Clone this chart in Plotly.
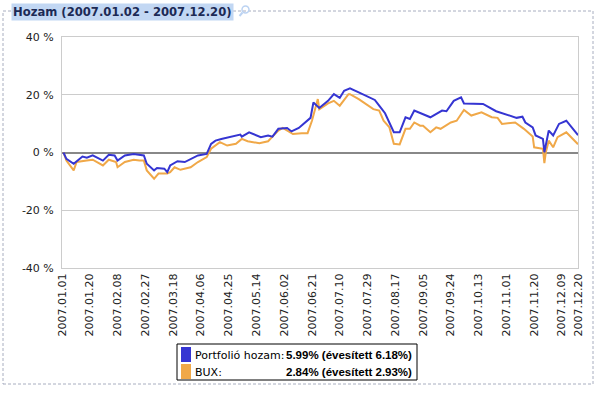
import plotly.graph_objects as go

# ---- data ----
portfolio_dates = [
    "2007-01-02", "2007-01-04", "2007-01-09", "2007-01-15", "2007-01-18", "2007-01-22",
    "2007-01-29", "2007-02-02", "2007-02-06", "2007-02-08", "2007-02-13", "2007-02-19",
    "2007-02-26", "2007-02-28", "2007-03-05", "2007-03-07", "2007-03-12", "2007-03-14",
    "2007-03-16", "2007-03-21", "2007-03-26", "2007-03-30", "2007-04-04", "2007-04-10",
    "2007-04-13", "2007-04-16", "2007-04-20", "2007-05-03", "2007-05-04", "2007-05-09",
    "2007-05-17", "2007-05-22", "2007-05-25", "2007-05-29", "2007-06-04", "2007-06-07",
    "2007-06-12", "2007-06-20", "2007-06-22", "2007-06-26", "2007-07-02", "2007-07-06",
    "2007-07-10", "2007-07-13", "2007-07-17", "2007-07-23", "2007-08-03", "2007-08-06",
    "2007-08-10", "2007-08-16", "2007-08-20", "2007-08-24", "2007-08-27", "2007-08-30",
    "2007-09-10", "2007-09-18", "2007-09-21", "2007-09-26", "2007-10-01", "2007-10-03",
    "2007-10-16", "2007-10-25", "2007-11-08", "2007-11-12", "2007-11-14", "2007-11-19",
    "2007-11-21", "2007-11-26", "2007-11-27", "2007-11-30", "2007-12-03", "2007-12-07",
    "2007-12-12", "2007-12-20",
]
portfolio_values = [
    0.0, -2.2, -3.9, -1.4, -1.8, -1.0,
    -2.8, -0.8, -1.0, -2.8, -1.0, -0.5,
    -1.0, -3.9, -6.2, -5.4, -5.6, -6.8,
    -4.5, -3.0, -3.3, -2.2, -1.0, -0.5,
    3.0, 4.1, 4.7, 6.2, 5.5, 7.0,
    5.3, 5.9, 5.5, 8.2, 8.5, 7.3,
    8.5, 12.0, 17.3, 15.4, 17.9, 20.2,
    18.9, 21.4, 22.2, 20.8, 18.2, 16.2,
    13.6, 7.0, 7.0, 12.2, 11.6, 14.5,
    12.2, 14.5, 14.3, 17.9, 19.1, 17.0,
    16.8, 14.3, 12.0, 12.4, 10.4, 8.7,
    5.9, 4.7, 0.1, 7.6, 5.9, 9.9,
    11.0, 5.99,
]

bux_dates = [
    "2007-01-02", "2007-01-04", "2007-01-09", "2007-01-11", "2007-01-18", "2007-01-22",
    "2007-01-29", "2007-02-02", "2007-02-07", "2007-02-08", "2007-02-13", "2007-02-19",
    "2007-02-23", "2007-02-26", "2007-02-28", "2007-03-05", "2007-03-08", "2007-03-14",
    "2007-03-16", "2007-03-19", "2007-03-23", "2007-03-30", "2007-04-04", "2007-04-10",
    "2007-04-13", "2007-04-19", "2007-04-24", "2007-04-30", "2007-05-04", "2007-05-08",
    "2007-05-16", "2007-05-22", "2007-05-25", "2007-05-29", "2007-06-01", "2007-06-08",
    "2007-06-14", "2007-06-18", "2007-06-21", "2007-06-25", "2007-06-26", "2007-07-02",
    "2007-07-06", "2007-07-10", "2007-07-16", "2007-07-17", "2007-07-23", "2007-08-02",
    "2007-08-06", "2007-08-09", "2007-08-13", "2007-08-16", "2007-08-20", "2007-08-24",
    "2007-08-27", "2007-08-30", "2007-09-03", "2007-09-05", "2007-09-10", "2007-09-14",
    "2007-09-17", "2007-09-24", "2007-09-28", "2007-10-03", "2007-10-08", "2007-10-15",
    "2007-10-22", "2007-10-26", "2007-10-29", "2007-11-07", "2007-11-13", "2007-11-19",
    "2007-11-20", "2007-11-26", "2007-11-27", "2007-11-28", "2007-11-30", "2007-12-03",
    "2007-12-06", "2007-12-12", "2007-12-20",
]
bux_values = [
    0.0, -2.8, -6.2, -3.3, -2.8, -2.5,
    -4.5, -2.5, -3.3, -5.1, -3.3, -2.5,
    -2.8, -2.8, -6.2, -9.1, -7.3, -7.3,
    -6.8, -5.1, -6.0, -5.1, -3.3, -1.6,
    1.3, 3.6, 2.4, 3.0, 4.7, 3.9,
    3.2, 3.9, 5.5, 7.6, 8.5, 6.4,
    6.7, 6.7, 11.0, 18.5, 15.0, 17.0,
    17.9, 16.2, 20.2, 20.2, 18.5, 15.0,
    14.5, 11.0, 8.7, 3.0, 2.8, 8.2,
    8.2, 10.4, 9.3, 9.3, 7.0, 8.7,
    8.2, 10.4, 11.0, 14.7, 12.8, 13.9,
    12.2, 12.0, 9.9, 10.4, 8.2, 5.5,
    1.8, 1.3, -3.7, 0.1, 4.1, 1.8,
    5.3, 7.0, 2.84,
]

tick_dates = [
    "2007-01-01", "2007-01-20", "2007-02-08", "2007-02-27", "2007-03-18", "2007-04-06",
    "2007-04-25", "2007-05-14", "2007-06-02", "2007-06-21", "2007-07-10", "2007-07-29",
    "2007-08-17", "2007-09-05", "2007-09-24", "2007-10-13", "2007-11-01", "2007-11-20",
    "2007-12-09", "2007-12-20",
]
tick_labels = [d.replace("-", ".") for d in tick_dates]
y_ticks = [-40, -20, 0, 20, 40]

title_text = "Hozam (2007.01.02 - 2007.12.20)"
series_names = ["Portfolió hozam:", "BUX:"]
series_results = ["5.99% (évesített 6.18%)", "2.84% (évesített 2.93%)"]
series_colors = ["#3535d2", "#f0a848"]

# ---- layout geometry (pixels) ----
W, H = 599, 393
PL, PR, PT, PB = 62, 578, 37, 268
VERDANA = "Verdana, DejaVu Sans, sans-serif"


def px(x):
    return (x - PL) / (PR - PL)


def py(y):
    return (PB - y) / (PB - PT)


fig = go.Figure()
fig.add_trace(go.Scatter(x=bux_dates, y=bux_values, mode="lines",
                         line=dict(color=series_colors[1], width=2), name=series_names[1]))
fig.add_trace(go.Scatter(x=portfolio_dates, y=portfolio_values, mode="lines",
                         line=dict(color=series_colors[0], width=2), name=series_names[0]))

shapes = []
# dashed outer border
shapes.append(dict(type="rect", xref="paper", yref="paper",
                   x0=px(3), x1=px(593), y0=py(384), y1=py(11),
                   line=dict(color="#a8aec0", width=1, dash="3px,2px"), layer="below"))
# legend box
shapes.append(dict(type="rect", xref="paper", yref="paper",
                   x0=px(177), x1=px(417), y0=py(380), y1=py(344),
                   line=dict(color="#000000", width=1), fillcolor="white"))
# legend swatches
shapes.append(dict(type="rect", xref="paper", yref="paper",
                   x0=px(181), x1=px(191), y0=py(362), y1=py(347),
                   line=dict(width=0), fillcolor=series_colors[0]))
shapes.append(dict(type="rect", xref="paper", yref="paper",
                   x0=px(181), x1=px(191), y0=py(379), y1=py(364),
                   line=dict(width=0), fillcolor=series_colors[1]))
# magnifier icon
shapes.append(dict(type="circle", xref="paper", yref="paper",
                   x0=px(242), x1=px(249), y0=py(13), y1=py(6),
                   line=dict(color="#bcd3f2", width=1.5)))
shapes.append(dict(type="line", xref="paper", yref="paper",
                   x0=px(242.5), x1=px(239.5), y0=py(12.5), y1=py(16),
                   line=dict(color="#bcd3f2", width=2)))

annotations = []
annotations.append(dict(xref="paper", yref="paper", x=px(11), y=py(3), xanchor="left", yanchor="top",
                        text="<b>" + title_text + "</b>", showarrow=False,
                        font=dict(family=VERDANA, size=11.6, color="#1c2a55"),
                        bgcolor="#c2d7f3", borderpad=1))
rows_y = [355, 372]
for name, res, yy in zip(series_names, series_results, rows_y):
    annotations.append(dict(xref="paper", yref="paper", x=px(193), y=py(yy), xanchor="left",
                            yanchor="middle", text=name, showarrow=False,
                            font=dict(family=VERDANA, size=11, color="#000")))
    annotations.append(dict(xref="paper", yref="paper", x=px(414), y=py(yy), xanchor="right",
                            yanchor="middle", text="<b>" + res + "</b>", showarrow=False,
                            font=dict(family="Arial, Liberation Sans", size=11.5, color="#000")))

fig.update_layout(
    width=W, height=H,
    margin=dict(l=PL, r=W - PR, t=PT, b=H - PB, pad=0),
    paper_bgcolor="white", plot_bgcolor="white",
    showlegend=False,
    shapes=shapes, annotations=annotations,
    xaxis=dict(type="date", range=["2007-01-01", "2007-12-20"],
               tickmode="array", tickvals=tick_dates, ticktext=tick_labels,
               tickangle=-90, tickfont=dict(family=VERDANA, size=11, color="#222"),
               showgrid=False, zeroline=False, showline=True, linecolor="#cccccc",
               linewidth=1, mirror=True, ticks="", ticklen=0, automargin=False),
    yaxis=dict(range=[-40, 40], tickmode="array", tickvals=y_ticks,
               ticktext=[f"{v} %" for v in y_ticks],
               tickfont=dict(family=VERDANA, size=11, color="#222"),
               showgrid=True, gridcolor="#cccccc", gridwidth=1,
               zeroline=True, zerolinecolor="#888888", zerolinewidth=2,
               showline=True, linecolor="#cccccc", mirror=True, ticks="",
               ticklabelstandoff=5, automargin=False),
)

fig.write_html("out.html", config={"displayModeBar": False},
               post_script="document.body.style.margin='0';")
